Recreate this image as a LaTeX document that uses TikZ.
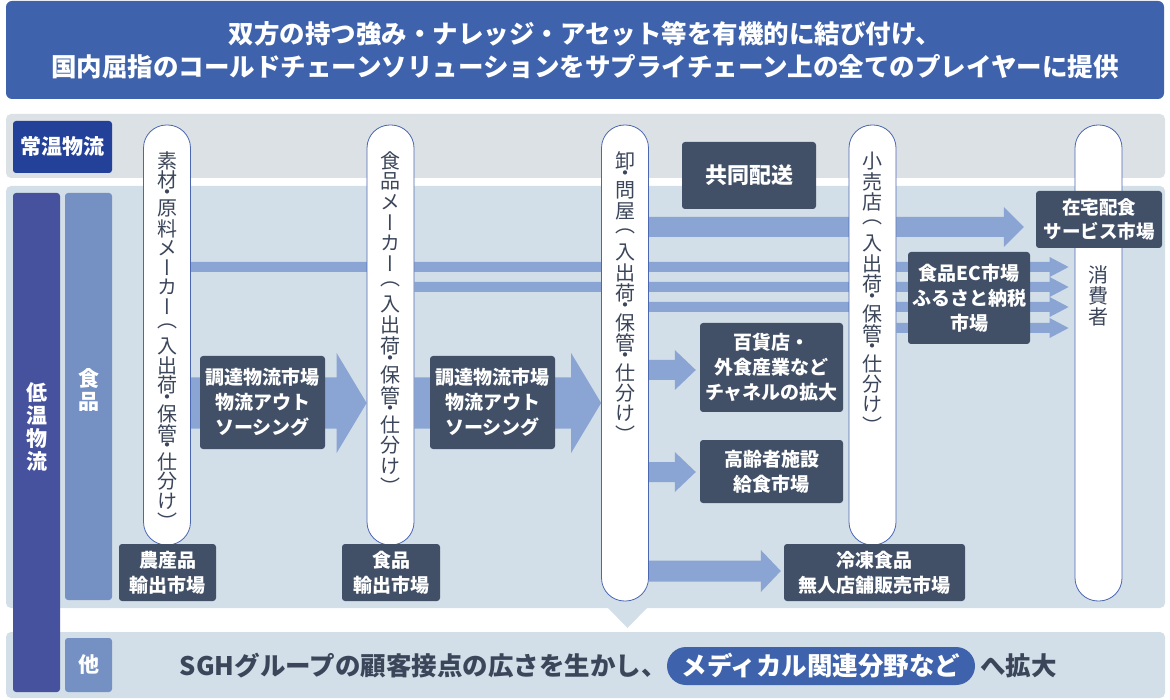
\documentclass[tikz,border=0pt]{standalone}
\usepackage{fontspec}
\setmainfont{Noto Sans CJK JP}
\newfontfamily\tatefont[RawFeature=+vert]{Noto Sans CJK JP}
\usetikzlibrary{calc}
\definecolor{headblue}{HTML}{3E62AB}
\definecolor{roomblue}{HTML}{24419A}
\definecolor{coldblue}{HTML}{47529F}
\definecolor{foodblue}{HTML}{7591C3}
\definecolor{warmgray}{HTML}{DCE1E6}
\definecolor{coldgray}{HTML}{D3DFE8}
\definecolor{boxnavy}{HTML}{415067}
\definecolor{flowblue}{HTML}{8AA5D3}
\definecolor{pillarline}{HTML}{4B67B1}
\definecolor{textnavy}{HTML}{3C465A}

\pgfdeclarelayer{bands}
\pgfdeclarelayer{flows}
\pgfsetlayers{bands,flows,main}

% vertical text, one character per cell
\newlength\tatestep
\newcommand\tatetext[2][20.5pt]{\setlength\tatestep{#1}%
  \vbox{\offinterlineskip\tatefont\tateloop#2\relax}}
\def\tateloop#1{\ifx\relax#1\else\tatecell{#1}\expandafter\tateloop\fi}
\def\tatecell#1{\if・#1\vbox to 9pt{\vss\hbox to \tatestep{\hss#1\hss}\vss}%
  \else\vbox to \tatestep{\vss\hbox to \tatestep{\hss#1\hss}\vss}\fi}

\newcommand\flowarrow[5]{%
  \fill[flowblue] let \p1=#1, \p2=#2 in
    (\x1,\y1+#3) -- (\x2-#5,\y1+#3) -- (\x2-#5,\y1+#4) -- (\x2,\y1)
    -- (\x2-#5,\y1-#4) -- (\x2-#5,\y1-#3) -- (\x1,\y1-#3) -- cycle;}

\begin{document}
\begin{tikzpicture}[x=1pt,y=-1pt,
  darkbox/.style={fill=boxnavy, rounded corners=3pt, text=white, align=center, inner sep=0pt,
    font=\bfseries\fontsize{19}{25}\selectfont},
  sidebox/.style={rounded corners=3pt, inner sep=0pt},
  sidelabel/.style={inner sep=0pt, text=white, font=\bfseries\fontsize{21}{21}\selectfont},
  pillar/.style={draw=pillarline, line width=0.8pt, fill=white, rounded corners=23pt,
    minimum width=47pt, inner sep=0pt},
  pillartext/.style={anchor=north, inner sep=0pt, text=textnavy, font=\fontsize{20}{20}\selectfont},
  bottomtext/.style={inner sep=0pt, text=textnavy, font=\bfseries\fontsize{25.5}{30}\selectfont}]

\useasboundingbox (0,0) rectangle (1170,700);

\node[fill=headblue, rounded corners=6pt, minimum width=1158pt, minimum height=98pt, align=center,
  text=white, font=\bfseries\fontsize{25.5}{33}\selectfont] (title) at (585,50)
  {双方の持つ強み・ナレッジ・アセット等を有機的に結び付け、\\国内屈指のコールドチェーンソリューションをサプライチェーン上の全てのプレイヤーに提供};

\begin{pgfonlayer}{bands}
  \fill[warmgray, rounded corners=5pt] (6,114) rectangle (1165,178);
  \fill[coldgray, rounded corners=5pt] (6,186) rectangle (1165,608);
  \fill[coldgray] (607,607) -- (648,607) -- (627.5,628) -- cycle;
  \fill[coldgray, rounded corners=5pt] (6,632) rectangle (1165,698);
\end{pgfonlayer}

\node[sidebox, fill=roomblue, minimum width=99pt, minimum height=52pt, text=white,
  font=\bfseries\fontsize{21}{21}\selectfont] (jouon) at (62.5,147) {常温物流};
\node[sidebox, fill=coldblue, minimum width=47pt, minimum height=499pt] (teion) at (36.5,442.5) {};
\node[sidelabel] (teionlabel) at (36.5,427) {\tatetext[23pt]{低温物流}};
\node[sidebox, fill=foodblue, minimum width=47pt, minimum height=407pt] (shokuhin) at (88.5,396.5) {};
\node[sidelabel] (shokuhinlabel) at (88.5,390) {\tatetext[23pt]{食品}};
\node[sidebox, fill=foodblue, minimum width=47pt, minimum height=54pt] (hoka) at (88.5,665) {};
\node[sidelabel] (hokalabel) at (hoka) {他};

\node[pillar, minimum height=420pt] (p1) at (167,335) {};
\node[pillar, minimum height=420pt] (p2) at (390.5,335) {};
\node[pillar, minimum height=476pt] (p3) at (625,363) {};
\node[pillar, minimum height=420pt] (p4) at (872.5,335) {};
\node[pillar, minimum height=476pt] (p5) at (1098.5,363) {};

\node[pillartext] (p1text) at ([yshift=-26pt]p1.north) {\tatetext[19.6pt]{素材・原料メーカー（入出荷・保管・仕分け）}};
\node[pillartext] (p2text) at ([yshift=-26pt]p2.north) {\tatetext{食品メーカー（入出荷・保管・仕分け）}};
\node[pillartext] (p3text) at ([yshift=-26pt]p3.north) {\tatetext{卸・問屋（入出荷・保管・仕分け）}};
\node[pillartext] (p4text) at ([yshift=-26pt]p4.north) {\tatetext{小売店（入出荷・保管・仕分け）}};
\node[pillartext] (p5text) at (1098.5,264) {\tatetext[21pt]{消費者}};

\node[darkbox, minimum width=134pt, minimum height=67pt, font=\bfseries\fontsize{22}{26}\selectfont]
  (kyodo) at (749,175.5) {共同配送};
\node[darkbox, minimum width=126pt, minimum height=57pt, font=\bfseries\fontsize{18.5}{24}\selectfont]
  (zaitaku) at (1099,219.5) {在宅配食\\サービス市場};
\node[darkbox, minimum width=122pt, minimum height=92pt] (ec) at (969,298) {食品EC市場\\ふるさと納税\\市場};
\node[darkbox, minimum width=143pt, minimum height=89pt] (hyakka) at (771.5,367.5) {百貨店・\\外食産業など\\チャネルの拡大};
\node[darkbox, minimum width=143pt, minimum height=63pt] (koreisha) at (771.5,471.5) {高齢者施設\\給食市場};
\node[darkbox, minimum width=181pt, minimum height=57pt] (reito) at (874.5,572.5) {冷凍食品\\無人店舗販売市場};
\node[darkbox, minimum width=125pt, minimum height=93pt] (chotatsu1) at (262.5,402.5) {調達物流市場\\物流アウト\\ソーシング};
\node[darkbox, minimum width=125pt, minimum height=93pt] (chotatsu2) at (492.5,402.5) {調達物流市場\\物流アウト\\ソーシング};
\node[darkbox, minimum width=97pt, minimum height=57pt] (nosan) at (167.5,572.5) {農産品\\輸出市場};
\node[darkbox, minimum width=98pt, minimum height=57pt] (shokuyu) at (391,572.5) {食品\\輸出市場};

\begin{pgfonlayer}{flows}
  \flowarrow{(p1.east |- 0,403)}{(p2.west |- 0,403)}{25.5pt}{50pt}{30pt}
  \flowarrow{(p2.east |- 0,403)}{(p3.west |- 0,403)}{25.5pt}{50pt}{30pt}
  \flowarrow{(p3.east |- 0,227)}{([xshift=-12pt]zaitaku.west |- 0,227)}{10pt}{20pt}{20pt}
  \flowarrow{(p1.east |- 0,267)}{([xshift=-6pt]p5.west |- 0,267)}{5pt}{10pt}{19pt}
  \flowarrow{(p2.east |- 0,287)}{([xshift=-6pt]p5.west |- 0,287)}{5pt}{10pt}{19pt}
  \flowarrow{(p3.east |- 0,307)}{([xshift=-6pt]p5.west |- 0,307)}{5pt}{10pt}{19pt}
  \flowarrow{(p4.east |- 0,328)}{([xshift=-6pt]p5.west |- 0,328)}{5pt}{10pt}{19pt}
  \flowarrow{(p3.east |- 0,370)}{([xshift=-4pt]hyakka.west |- 0,370)}{10pt}{20pt}{21pt}
  \flowarrow{(p3.east |- 0,472)}{([xshift=-4pt]koreisha.west |- 0,472)}{10pt}{20pt}{21pt}
  \flowarrow{(p3.east |- 0,571)}{([xshift=-3pt]reito.west |- 0,571)}{10.5pt}{21pt}{20pt}
\end{pgfonlayer}

\node[fill=headblue, rounded corners=19pt, minimum width=308pt, minimum height=38pt, inner sep=0pt,
  text=white, font=\bfseries\fontsize{25.5}{30}\selectfont] (medical) at (821,666) {メディカル関連分野など};
\node[bottomtext, anchor=east] (sgh) at (medical.west) {SGHグループの顧客接点の広さを生かし、};
\node[bottomtext, anchor=west] (kakudai) at ([xshift=5pt]medical.east) {へ拡大};
\end{tikzpicture}
\end{document}
